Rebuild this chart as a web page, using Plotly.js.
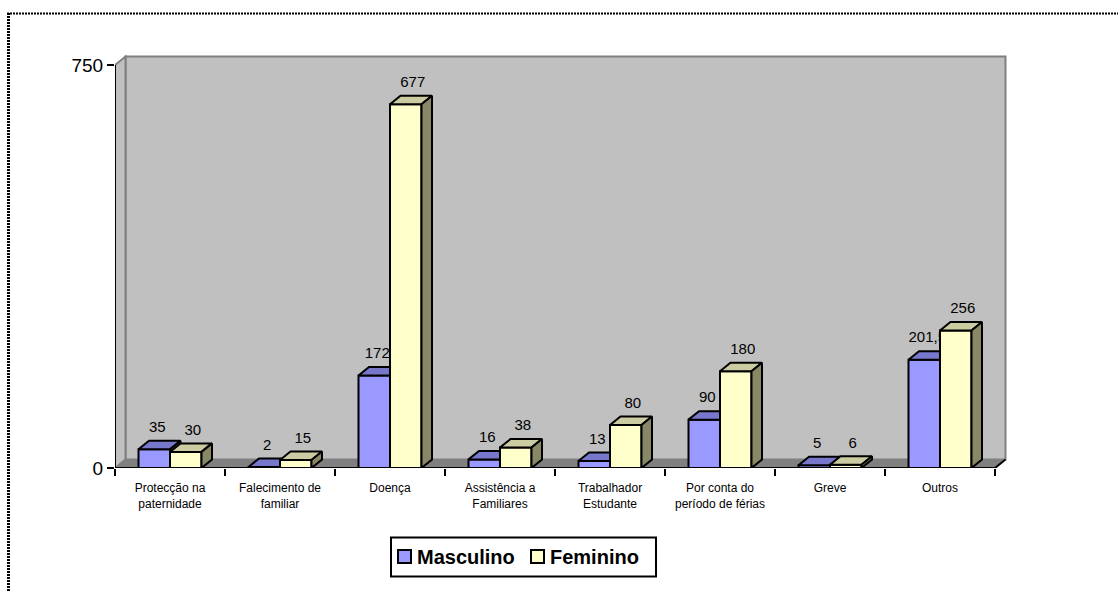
<!DOCTYPE html>
<html>
<head>
<meta charset="utf-8">
<script src="https://cdn.plot.ly/plotly-3.0.1.min.js"></script>
<style>
  html, body { margin: 0; padding: 0; background: #ffffff; }
  #chart { width: 1118px; height: 591px; }
</style>
</head>
<body>
<div id="chart"></div>
<script>
// Absence types (two-line tick labels) and counts per sex
const categories = [
  "Protecção na<br>paternidade",
  "Falecimento de<br>familiar",
  "Doença",
  "Assistência a<br>Familiares",
  "Trabalhador<br>Estudante",
  "Por conta do<br>período de férias",
  "Greve",
  "Outros"
];
const masculino = [35, 2, 172, 16, 13, 90, 5, 201.5];
const feminino  = [30, 15, 677, 38, 80, 180, 6, 256];
const seriesNames = ["Masculino", "Feminino"];
const yTickValues = [0, 750];

// ---- pseudo-3D geometry (pixel sizes of the drawing, converted to axis units) ----
const W = 1118, H = 591;
const M = { l: 115, r: 108, t: 50, b: 123 };
const plotW = W - M.l - M.r;          // 895
const plotH = H - M.t - M.b;          // 418
const PX_PER_CAT = 110;
const PX_PER_UNIT = 403 / 750;
const DX = 10.5 / PX_PER_CAT;         // depth offset, x units
const DY = 8.5 / PX_PER_UNIT;         // depth offset, y units
const BAR_W = 31.5 / PX_PER_CAT;      // bar width, x units
const LABEL_LIFT = 5 / PX_PER_UNIT;   // extra gap between bar top and its value label
const xRange = [-0.5, -0.5 + plotW / PX_PER_CAT];
const yRange = [0, plotH / PX_PER_UNIT];
const n = categories.length;
const xLeft = -0.5, xRight = n - 0.5, yTop = yTickValues[1];

// pixel -> paper helpers for the legend box and the chart-area border
const paperX = px => (px - M.l) / plotW;
const paperY = py => (H - M.b - py) / plotH;

const FONT = "Liberation Sans, Arial, sans-serif";

// Build the three visible faces of every bar in one series
function faces(values, offset) {
  const front = { x: [], y: [] }, top = { x: [], y: [] }, side = { x: [], y: [] };
  values.forEach((v, i) => {
    const x0 = i + offset, x1 = x0 + BAR_W;
    front.x.push(x0, x1, x1, x0, x0, null);
    front.y.push(0, 0, v, v, 0, null);
    top.x.push(x0, x1, x1 + DX, x0 + DX, x0, null);
    top.y.push(v, v, v + DY, v + DY, v, null);
    side.x.push(x1, x1 + DX, x1 + DX, x1, x1, null);
    side.y.push(0, DY, v + DY, v, 0, null);
  });
  return { front, top, side };
}

function poly(p, fill) {
  return {
    type: "scatter", mode: "lines", x: p.x, y: p.y,
    fill: "toself", fillcolor: fill,
    line: { color: "#000000", width: 2 },
    hoverinfo: "skip", showlegend: false, connectgaps: false
  };
}

function labels(values, offset, shiftPx) {
  return {
    type: "scatter", mode: "text",
    x: values.map((v, i) => i + offset + BAR_W / 2 + shiftPx / PX_PER_CAT),
    y: values.map(v => v + DY + LABEL_LIFT),
    text: values.map(v => String(v).replace(".", ",")),
    textposition: "top center",
    textfont: { family: FONT, size: 15, color: "#000000" },
    hoverinfo: "skip", showlegend: false, cliponaxis: false
  };
}

const colors = {
  m: { front: "#9999FF", top: "#7777CC", side: "#5C5C99" },
  f: { front: "#FFFFCC", top: "#CCCCA3", side: "#888866" }
};

const fm = faces(masculino, -BAR_W);
const ff = faces(feminino, 0);

const data = [
  poly(fm.front, colors.m.front), poly(fm.top, colors.m.top), poly(fm.side, colors.m.side),
  labels(masculino, -BAR_W, 3),
  poly(ff.front, colors.f.front), poly(ff.top, colors.f.top), poly(ff.side, colors.f.side),
  labels(feminino, 0, 7),
  // keeps xaxis2 active for the category boundary ticks
  { type: "scatter", x: [0], y: [0], xaxis: "x2", yaxis: "y",
    mode: "markers", marker: { opacity: 0 }, hoverinfo: "skip", showlegend: false }
];

function path(pts) {
  return "M" + pts.map(p => p[0] + "," + p[1]).join(" L") + " Z";
}

const shapes = [
  // back wall
  { type: "rect", xref: "x", yref: "y", layer: "below",
    x0: xLeft + DX, x1: xRight + DX, y0: DY, y1: yTop + DY,
    fillcolor: "#C0C0C0", line: { color: "#808080", width: 2 } },
  // side wall
  { type: "path", xref: "x", yref: "y", layer: "below",
    path: path([[xLeft, 0], [xLeft, yTop], [xLeft + DX, yTop + DY], [xLeft + DX, DY]]),
    fillcolor: "#C0C0C0", line: { color: "#808080", width: 2 } },
  // floor
  { type: "path", xref: "x", yref: "y", layer: "below",
    path: path([[xLeft, 0], [xRight, 0], [xRight + DX, DY], [xLeft + DX, DY]]),
    fillcolor: "#808080", line: { color: "#808080", width: 1 } },
  // value axis line
  { type: "line", xref: "x", yref: "y", layer: "below",
    x0: xLeft, x1: xLeft, y0: 0, y1: yTop, line: { color: "#000000", width: 2 } },
  // category axis line with its depth edge
  { type: "path", xref: "x", yref: "y", layer: "below",
    path: "M" + xLeft + ",0 L" + xRight + ",0 L" + (xRight + DX) + "," + DY,
    line: { color: "#000000", width: 2 } },
  // dotted chart-area border
  { type: "line", xref: "paper", yref: "paper",
    x0: paperX(8.5), x1: paperX(8.5), y0: paperY(13), y1: paperY(700),
    line: { color: "#000000", width: 3, dash: "2px,1px" } },
  { type: "line", xref: "paper", yref: "paper",
    x0: paperX(7), x1: paperX(1300), y0: paperY(13.5), y1: paperY(13.5),
    line: { color: "#000000", width: 2, dash: "2px,1px" } },
  // legend box
  { type: "rect", xref: "paper", yref: "paper",
    x0: paperX(391), x1: paperX(656), y0: paperY(537.5), y1: paperY(576.5),
    fillcolor: "#ffffff", line: { color: "#000000", width: 2 } },
  // legend swatches
  { type: "rect", xref: "paper", yref: "paper",
    x0: paperX(398), x1: paperX(411), y0: paperY(550), y1: paperY(563),
    fillcolor: colors.m.front, line: { color: "#000000", width: 2 } },
  { type: "rect", xref: "paper", yref: "paper",
    x0: paperX(531), x1: paperX(544), y0: paperY(550), y1: paperY(563),
    fillcolor: colors.f.front, line: { color: "#000000", width: 2 } }
];

const legendFont = { family: FONT, size: 20, color: "#000000", weight: "bold" };
const annotations = [
  { xref: "paper", yref: "paper", x: paperX(415), y: paperY(556.5),
    xanchor: "left", yanchor: "middle", showarrow: false,
    text: "<b>" + seriesNames[0] + "</b>", font: legendFont },
  { xref: "paper", yref: "paper", x: paperX(548), y: paperY(556.5),
    xanchor: "left", yanchor: "middle", showarrow: false,
    text: "<b>" + seriesNames[1] + "</b>", font: legendFont }
];

const layout = {
  width: W, height: H,
  margin: M,
  paper_bgcolor: "#ffffff",
  plot_bgcolor: "rgba(0,0,0,0)",
  showlegend: false,
  xaxis: {
    range: xRange, tickmode: "array",
    tickvals: categories.map((c, i) => i), ticktext: categories,
    ticks: "", showline: false, showgrid: false, zeroline: false,
    ticklabelstandoff: 11,
    tickfont: { family: FONT, size: 12, color: "#000000" },
    fixedrange: true
  },
  xaxis2: {
    range: xRange, overlaying: "x", anchor: "y", side: "bottom",
    tickmode: "array", tickvals: Array.from({ length: n + 1 }, (d, i) => i - 0.5),
    showticklabels: false, ticks: "outside", ticklen: 7, tickwidth: 2, tickcolor: "#000000",
    showline: false, showgrid: false, zeroline: false, fixedrange: true
  },
  yaxis: {
    range: yRange, tickmode: "array", tickvals: yTickValues,
    ticktext: yTickValues.map(String),
    ticks: "outside", ticklen: 7, tickwidth: 2, tickcolor: "#000000",
    showline: false, showgrid: false, zeroline: false,
    tickfont: { family: FONT, size: 19, color: "#000000" },
    fixedrange: true
  },
  shapes: shapes,
  annotations: annotations
};

Plotly.newPlot("chart", data, layout, { displayModeBar: false, staticPlot: true });
</script>
</body>
</html>
